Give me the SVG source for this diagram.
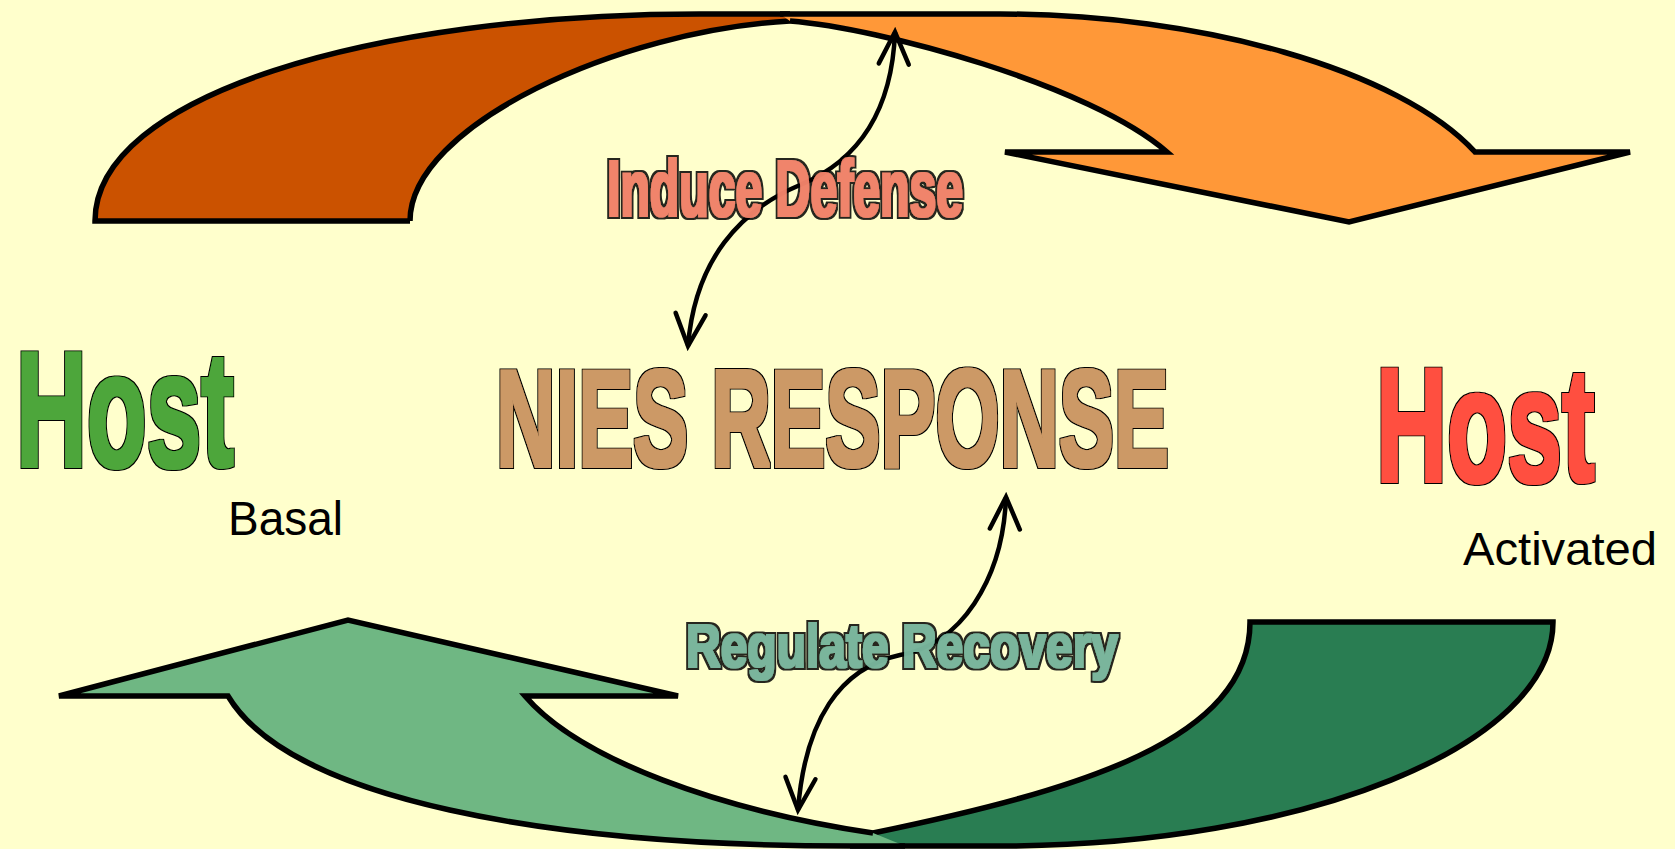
<svg xmlns="http://www.w3.org/2000/svg" width="1675" height="849" viewBox="0 0 1675 849">
<defs>
<style>
.fillonly{stroke:none}
.outline{fill:none;stroke:#000;stroke-width:5.5;stroke-linejoin:miter;stroke-miterlimit:4}
.conn{fill:none;stroke:#000;stroke-width:4.5}
.big{font-family:"Liberation Sans",Arial,sans-serif;font-weight:bold;filter:url(#fatBig)}
.lbl{font-family:"Liberation Sans",Arial,sans-serif;font-weight:bold;filter:url(#fatLbl)}
.plain{font-family:"Liberation Sans",Arial,sans-serif;fill:#000}
</style>
<filter id="fatBig" x="-5%" y="-10%" width="110%" height="120%">
<feMorphology in="SourceGraphic" operator="dilate" radius="1.6" result="f"/>
<feMorphology in="SourceAlpha" operator="dilate" radius="3.3" result="o"/>
<feMerge><feMergeNode in="o"/><feMergeNode in="f"/></feMerge>
</filter>
<filter id="fatLbl" x="-5%" y="-15%" width="110%" height="130%">
<feMorphology in="SourceGraphic" operator="dilate" radius="1.1" result="f"/>
<feMorphology in="SourceAlpha" operator="dilate" radius="2.6" result="o"/>
<feMerge><feMergeNode in="o"/><feMergeNode in="f"/></feMerge>
</filter>
<marker id="chev" markerUnits="userSpaceOnUse" markerWidth="50" markerHeight="50" viewBox="-40 -25 50 50" refX="0" refY="0" orient="auto-start-reverse">
<path d="M -32,-15 L 0,0 L -32,15" fill="none" stroke="#000" stroke-width="4.5" stroke-linecap="round" stroke-linejoin="miter"/>
</marker>
</defs>
<rect x="0" y="0" width="1675" height="849" fill="#FFFFCC"/>

<g id="arrow-top-left">
<path class="fillonly" fill="#CB5200" d="M 95,221 C 95,96 370,14 700,14 L 788,14 L 790,21 C 620,30 410,125 410,221 Z"/>
<path class="outline" d="M 410,221 L 95,221 C 95,96 370,14 700,14 L 790,14"/>
<path class="outline" d="M 410,221 C 410,125 620,30 790,21"/>
</g>

<g id="arrow-top-right">
<path class="fillonly" fill="#FF9838" d="M 780,14 L 1000,14 C 1200,14 1400,70 1475,152 L 1630,152 L 1349,222 L 1005,152 L 1167,152 C 1090,85 880,28 790,21 Z"/>
<path class="outline" d="M 780,14 L 1000,14 C 1200,14 1400,70 1475,152 L 1630,152 L 1349,222 L 1005,152 L 1167,152 C 1090,85 880,28 790,21"/>
</g>

<g id="arrow-bottom-right">
<path class="fillonly" fill="#297D52" d="M 1250,622 L 1553,622 C 1553,745 1305,846 1000,846 L 880,846 L 873,833 C 1080,790 1250,740 1250,622 Z"/>
<path class="outline" d="M 873,833 C 1080,790 1250,740 1250,622 L 1553,622 C 1553,745 1305,846 1000,846 L 850,846"/>
</g>

<g id="arrow-bottom-left">
<path class="fillonly" fill="#6FB783" d="M 59,696 L 348,620 L 678,696 L 525,696 C 580,760 720,810 873,833 L 905,846 L 850,846 C 550,846 290,800 228,696 Z"/>
<path class="outline" d="M 873,833 C 720,810 580,760 525,696 L 678,696 L 348,620 L 59,696 L 228,696 C 290,800 550,846 850,846 L 905,846"/>
</g>

<g id="connectors">
<path class="conn" marker-start="url(#chev)" marker-end="url(#chev)" d="M 895,32 C 892,110 860,160 800,185 C 740,210 695,260 688,346"/>
<path class="conn" marker-start="url(#chev)" marker-end="url(#chev)" d="M 1006,497 C 1003,580 960,645 900,655 C 840,668 805,720 798,810"/>
</g>

<g id="host-basal">
<text class="big" fill="#4DA63B" transform="translate(16,466) scale(0.602,1)" x="0" y="0" font-size="163">Host</text>
<text class="plain" x="228" y="535" font-size="48" textLength="115" lengthAdjust="spacingAndGlyphs">Basal</text>
</g>

<g id="host-activated">
<text class="big" fill="#FF5040" transform="translate(1376,481) scale(0.608,1)" x="0" y="0" font-size="162">Host</text>
<text class="plain" x="1463" y="565" font-size="46" textLength="194" lengthAdjust="spacingAndGlyphs">Activated</text>
</g>

<g id="nies-response">
<text class="big" fill="#CC9966" transform="translate(496,466) scale(0.597,1)" x="0" y="0" font-size="138">NIES RESPONSE</text>
</g>

<g id="label-induce">
<text class="lbl" fill="#FF8A70" fill-opacity="0.85" x="607" y="216" font-size="80" textLength="356" lengthAdjust="spacingAndGlyphs">Induce Defense</text>
</g>

<g id="label-regulate">
<text class="lbl" fill="#7FBFA6" fill-opacity="0.85" x="686" y="667" font-size="62" textLength="432" lengthAdjust="spacingAndGlyphs">Regulate Recovery</text>
</g>
</svg>
